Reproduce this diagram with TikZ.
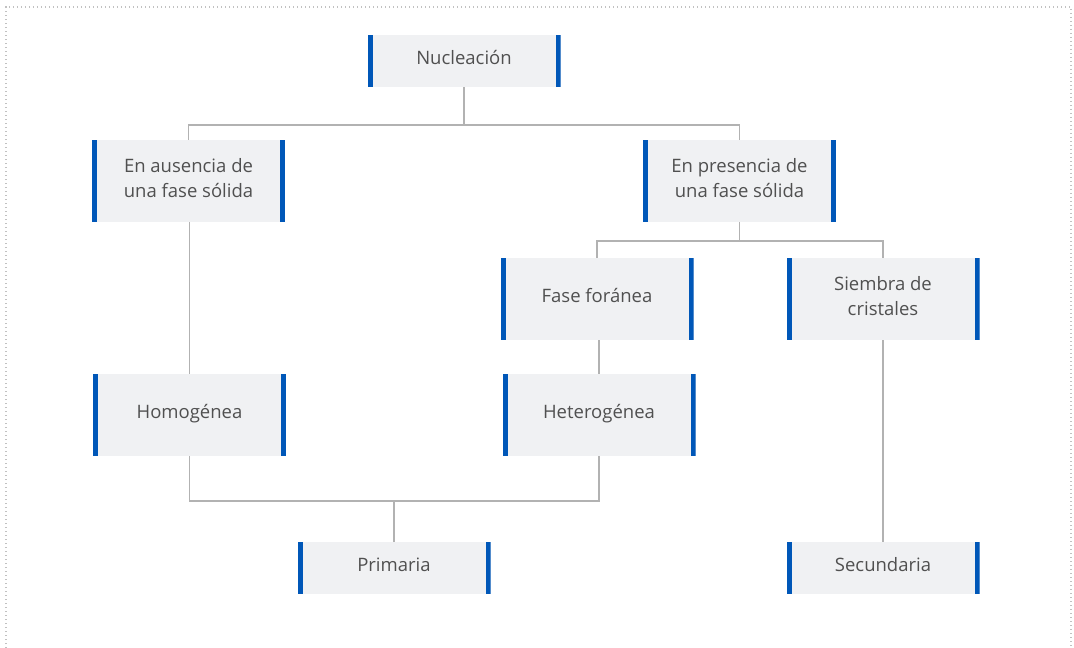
\documentclass[tikz,border=0pt]{standalone}
\usepackage{fontspec}
\setmainfont{Open Sans}
\usetikzlibrary{calc}
\definecolor{azul}{HTML}{0057B8}
\definecolor{fondo}{HTML}{F0F1F3}
\definecolor{linea}{HTML}{B2B2B2}
\definecolor{texto}{HTML}{505050}
\tikzset{
  caja/.style={fill=fondo, minimum width=193pt, minimum height=82pt, inner sep=0pt,
    align=center, text=texto, text depth=7pt, font=\fontsize{18.5}{25}\selectfont,
    path picture={
      \fill[azul] (path picture bounding box.north west) rectangle ([xshift=5pt]path picture bounding box.south west);
      \fill[azul] (path picture bounding box.north east) rectangle ([xshift=-5pt]path picture bounding box.south east);
    }},
  baja/.style={caja, minimum height=52pt},
  rama/.style={draw=linea, line width=1.8pt},
  borde/.style={draw=linea!80, line width=1.4pt, dash pattern=on 1.4pt off 2.6pt}
}

\begin{document}
\begin{tikzpicture}[x=1pt,y=-1pt]
          \useasboundingbox (0,0) rectangle (1074,648);
          \draw[borde] (6,648) -- (6,7) -- (1071,7) -- (1071,648);

          \node[baja] (nuc) at (464,61) {Nucleación};
          \node[caja] (aus) at (188.5,181) {En ausencia de\\una fase sólida};
          \node[caja] (pre) at (739.5,181) {En presencia de\\una fase sólida};
          \node[caja] (for) at (597,299) {Fase foránea};
          \node[caja] (sie) at (883,299) {Siembra de\\cristales};
          \node[caja] (hom) at (189.5,415) {Homogénea};
          \node[caja] (het) at (599,415) {Heterogénea};
          \node[baja] (pri) at (394,568) {Primaria};
          \node[baja] (sec) at (883,568) {Secundaria};

          \coordinate (k1) at (464,125);
          \coordinate (k2) at (739.5,241);
          \coordinate (k3) at (394,501);
          \draw[rama] (nuc) -- (k1) -| (aus);
          \draw[rama] (k1) -| (pre);
          \draw[rama] (pre) -- (k2) -| (for);
          \draw[rama] (k2) -| (sie);
          \draw[rama] (aus.south -| hom) -- (hom);
          \draw[rama] (for.south -| het) -- (het);
          \draw[rama] (sie) -- (sec);
          \draw[rama] (hom) |- (k3) -| (het);
          \draw[rama] (k3) -- (pri);
        \end{tikzpicture}
\end{document}
